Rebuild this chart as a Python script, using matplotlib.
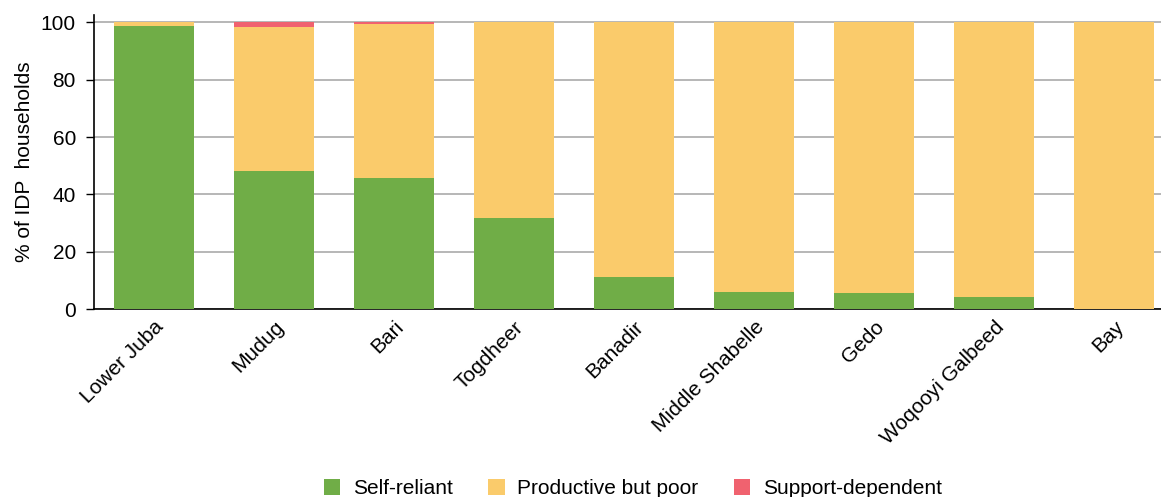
import matplotlib
matplotlib.use("Agg")
import matplotlib.pyplot as plt
import numpy as np

plt.rcParams['font.family'] = ['Liberation Sans', 'DejaVu Sans']

regions = ["Lower Juba", "Mudug", "Bari", "Togdheer", "Banadir",
           "Middle Shabelle", "Gedo", "Woqooyi Galbeed", "Bay"]
self_reliant = [98.8, 48.2, 45.7, 31.8, 11.2, 5.9, 5.6, 4.2, 0.0]
productive_poor = [1.2, 50.2, 53.6, 68.2, 88.8, 94.1, 94.4, 95.8, 100.0]
support_dependent = [0.0, 1.6, 0.7, 0.0, 0.0, 0.0, 0.0, 0.0, 0.0]

series_names = ["Self-reliant", "Productive but poor", "Support-dependent"]
colors = ["#70AD47", "#FACB6B", "#F0626F"]

FS = 15

fig = plt.figure(figsize=(11.61, 4.97), dpi=100)
ax = fig.add_axes([0.081, 0.378, 0.919, 0.592])

x = np.arange(len(regions))
w = 0.667
bottom = np.zeros(len(regions))
for name, vals, c in zip(series_names, [self_reliant, productive_poor, support_dependent], colors):
    vals = np.array(vals)
    ax.bar(x, vals, w, bottom=bottom, color=c, label=name, zorder=3, linewidth=0)
    bottom += vals

ax.set_xlim(-0.5, 8.39)
ax.set_ylim(0, 102.6)
ax.set_yticks([0, 20, 40, 60, 80, 100])
ax.yaxis.grid(True, color="#AAAAAA", linewidth=1.2, zorder=0)
ax.set_axisbelow(True)
for s in ["top", "right"]:
    ax.spines[s].set_visible(False)
ax.spines["left"].set_color("black")
ax.spines["bottom"].set_color("black")
ax.spines["left"].set_linewidth(1.2)
ax.spines["bottom"].set_linewidth(1.2)
ax.tick_params(axis="y", labelsize=FS, length=6, width=1, direction="out", pad=7)
ax.tick_params(axis="x", length=0, labelsize=FS, pad=6)
ax.set_xticks(x)
ax.set_xticklabels(regions, rotation=45, ha="right", rotation_mode="anchor")
ax.set_ylabel("% of IDP  households", fontsize=FS, labelpad=5)

handles, labels = ax.get_legend_handles_labels()
fig.legend(handles, labels, loc="lower center", bbox_to_anchor=(0.545, -0.04), ncol=3,
           frameon=False, fontsize=FS, handlelength=0.8, handleheight=0.8,
           columnspacing=1.7, handletextpad=0.6)

fig.savefig("out.png", dpi=100)
